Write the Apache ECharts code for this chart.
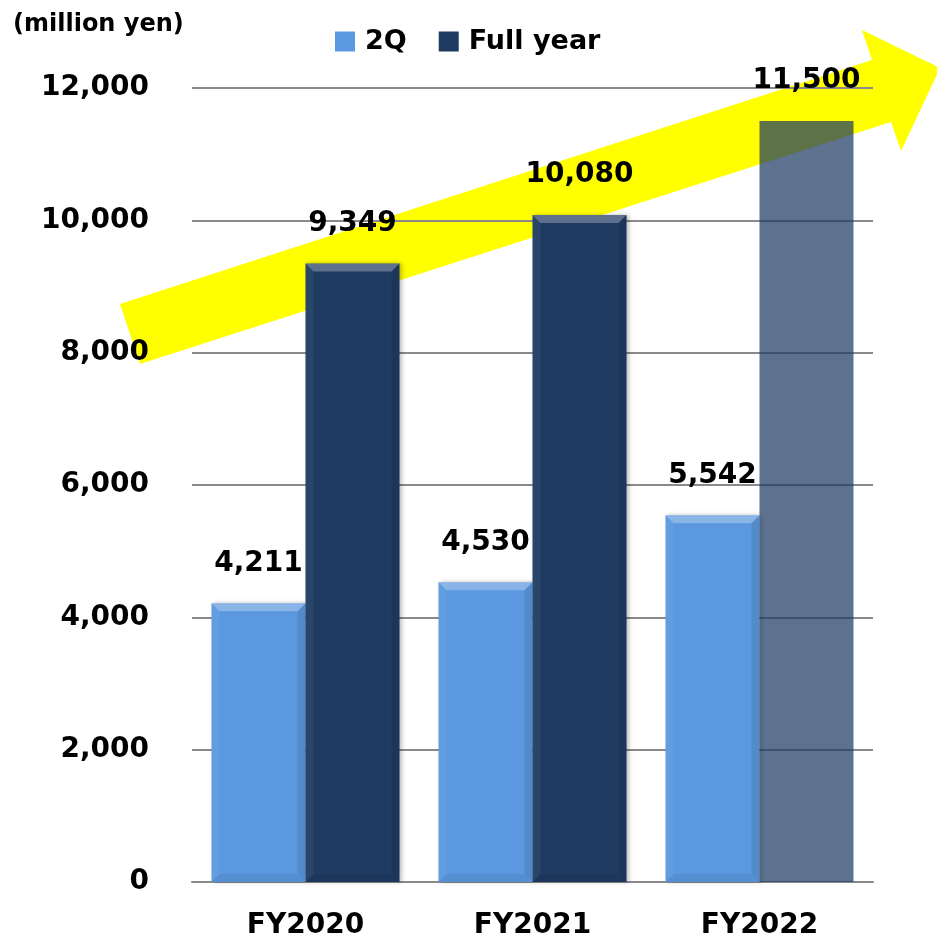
<!DOCTYPE html>
<html>
<head>
<meta charset="utf-8">
<script src="https://cdn.jsdelivr.net/npm/echarts@6/dist/echarts.min.js"></script>
<style>
  html, body { margin: 0; padding: 0; background: #fff; }
  #chart { width: 937px; height: 937px; }
</style>
</head>
<body>
<div id="chart"></div>
<script>
// Net sales by fiscal year (million yen)
const categories = ['FY2020', 'FY2021', 'FY2022'];
const secondQuarter = [4211, 4530, 5542];
const fullYear = [9349, 10080, 11500];
const yTicks = [0, 2000, 4000, 6000, 8000, 10000, 12000];
const seriesNames = ['2Q', 'Full year'];

const FONT = "'DejaVu Sans', Verdana, sans-serif";
const LIGHT = '#5b98df';
const NAVY = '#1f3b62';
const FORECAST = 'rgba(31,59,98,0.72)';
const BAR_W = 94;
const BEVEL = 8;

const fmt = v => v.toLocaleString('en-US');

const chart = echarts.init(document.getElementById('chart'), null, { renderer: 'canvas' });

const labelStyle = {
  show: true,
  position: 'top',
  distance: 26,
  color: '#000',
  fontFamily: FONT,
  fontWeight: 'bold',
  fontSize: 28,
  formatter: p => fmt(p.value)
};

const barShadow = {
  shadowBlur: 4,
  shadowOffsetX: 2,
  shadowOffsetY: 0,
  shadowColor: 'rgba(0,0,0,0.25)'
};

// Bevel shading laid over the solid bars (forecast bar stays flat)
const bevelData = [];
secondQuarter.forEach((v, i) => bevelData.push([i, v, -1]));
fullYear.forEach((v, i) => { if (i < fullYear.length - 1) bevelData.push([i, v, 1]); });

function renderBevel(params, api) {
  const cat = api.value(0);
  const val = api.value(1);
  const side = api.value(2);
  const top = api.coord([cat, val]);
  const base = api.coord([cat, 0]);
  const x0 = side < 0 ? top[0] - BAR_W : top[0];
  const x1 = x0 + BAR_W;
  const y0 = top[1];
  const y1 = base[1];
  const b = BEVEL;
  const poly = (pts, fill) => ({ type: 'polygon', shape: { points: pts }, style: { fill: fill } });
  return {
    type: 'group',
    children: [
      poly([[x0, y0], [x1, y0], [x1 - b, y0 + b], [x0 + b, y0 + b]], 'rgba(255,255,255,0.28)'),
      poly([[x0, y0], [x0 + b, y0 + b], [x0 + b, y1 - b], [x0, y1]], 'rgba(255,255,255,0.05)'),
      poly([[x1, y0], [x1 - b, y0 + b], [x1 - b, y1 - b], [x1, y1]], 'rgba(0,0,0,0.09)'),
      poly([[x0, y1], [x0 + b, y1 - b], [x1 - b, y1 - b], [x1, y1]], 'rgba(0,0,0,0.06)')
    ]
  };
}

chart.setOption({
  backgroundColor: '#fff',
  animation: false,
  title: {
    text: '(million yen)',
    left: 8,
    top: 8,
    textStyle: { fontFamily: FONT, fontWeight: 'bold', fontSize: 24, color: '#000' }
  },
  legend: {
    left: 330,
    top: 23,
    itemWidth: 20,
    itemHeight: 20,
    itemGap: 32,
    icon: 'rect',
    textStyle: { fontFamily: FONT, fontWeight: 'bold', fontSize: 27, color: '#000', padding: [0, 0, 0, 5] },
    data: seriesNames
  },
  grid: { left: 192, right: 64, top: 88, bottom: 55, containLabel: false, outerBoundsMode: 'none' },
  xAxis: {
    type: 'category',
    data: categories,
    axisTick: { show: false },
    axisLine: { lineStyle: { color: '#8a8a8a', width: 2 } },
    axisLabel: {
      margin: 30,
      color: '#000',
      fontFamily: FONT,
      fontWeight: 'bold',
      fontSize: 28
    }
  },
  yAxis: {
    type: 'value',
    min: yTicks[0],
    max: yTicks[yTicks.length - 1],
    interval: yTicks[1] - yTicks[0],
    axisLine: { show: false },
    axisTick: { show: false },
    splitLine: { lineStyle: { color: '#8a8a8a', width: 2 } },
    axisLabel: {
      margin: 43,
      padding: [0, 0, 10, 0],
      color: '#000',
      fontFamily: FONT,
      fontWeight: 'bold',
      fontSize: 28,
      formatter: v => fmt(v)
    }
  },
  // Rising trend arrow, kept behind the grid lines and bars
  graphic: [{
    type: 'polygon',
    z: -10,
    silent: true,
    shape: {
      points: [
        [120, 304], [872, 60], [862, 30], [940, 68],
        [901, 151], [891, 122], [140, 364]
      ]
    },
    style: { fill: '#ffff00' }
  }],
  series: [
    {
      name: seriesNames[0],
      type: 'bar',
      barWidth: BAR_W,
      barGap: '0%',
      itemStyle: Object.assign({ color: LIGHT }, barShadow),
      label: labelStyle,
      data: secondQuarter
    },
    {
      name: seriesNames[1],
      type: 'bar',
      barWidth: BAR_W,
      barGap: '0%',
      itemStyle: Object.assign({ color: NAVY }, barShadow),
      label: labelStyle,
      data: fullYear.map((v, i) => i === fullYear.length - 1
        ? { value: v, itemStyle: { color: FORECAST, shadowBlur: 0, shadowOffsetX: 0 } }
        : v)
    },
    {
      name: 'bevel',
      type: 'custom',
      silent: true,
      z: 3,
      renderItem: renderBevel,
      encode: { x: 0, y: 1 },
      data: bevelData
    }
  ]
});
</script>
</body>
</html>
